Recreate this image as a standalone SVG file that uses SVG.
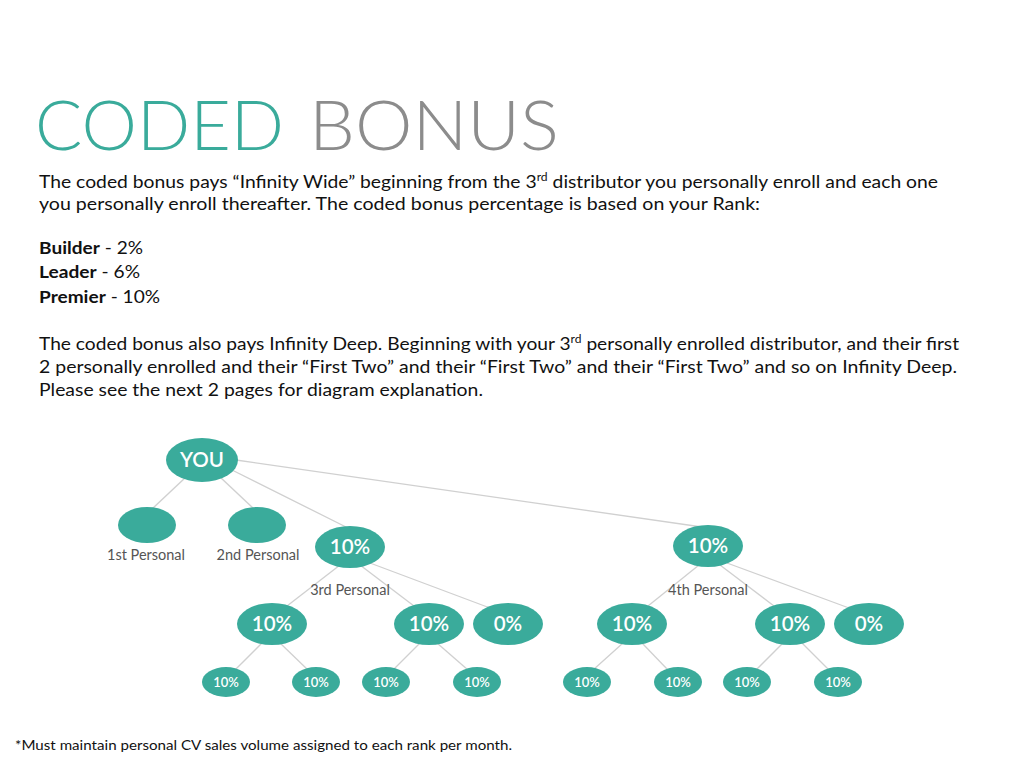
<svg xmlns="http://www.w3.org/2000/svg" width="1020" height="765" viewBox="0 0 1020 765">
<style>
.title{font-family:Lato,"Liberation Sans",sans-serif;font-weight:300;font-size:68px}
.body{font-family:Lato,"Liberation Sans",sans-serif;font-size:17.5px;fill:#111}
.b{font-weight:bold}
.sup{font-size:11px}
.lbl{font-family:Lato,"Liberation Sans",sans-serif;font-size:14.5px;fill:#555;text-anchor:middle}
.n{fill:#3aab9b}
.nt{font-family:Lato,"Liberation Sans",sans-serif;fill:#fff;text-anchor:middle;font-weight:600}
.big{font-size:20.5px}
.sm{font-size:13px}
.c line{stroke:#d0d0d0;stroke-width:1.3}
.foot{font-family:Lato,"Liberation Sans",sans-serif;font-size:13px;fill:#111}
</style>
<rect width="1020" height="765" fill="#fff"/>
<text class="title" x="35" y="150" fill="#3aab9b" textLength="249" lengthAdjust="spacingAndGlyphs">CODED</text>
<text class="title" x="309" y="150" fill="#8c8c8c" textLength="250" lengthAdjust="spacingAndGlyphs">BONUS</text>
<text class="body" x="39" y="188" textLength="899" lengthAdjust="spacingAndGlyphs">The coded bonus pays “Infinity Wide” beginning from the 3<tspan class="sup" dy="-7">rd</tspan><tspan dy="7"> distributor you personally enroll and each one</tspan></text>
<text class="body" x="39" y="210" textLength="721" lengthAdjust="spacingAndGlyphs">you personally enroll thereafter. The coded bonus percentage is based on your Rank:</text>
<text class="body" x="39" y="254" textLength="104" lengthAdjust="spacingAndGlyphs"><tspan class="b">Builder</tspan> - 2%</text>
<text class="body" x="39" y="278" textLength="101" lengthAdjust="spacingAndGlyphs"><tspan class="b">Leader</tspan> - 6%</text>
<text class="body" x="39" y="303" textLength="121" lengthAdjust="spacingAndGlyphs"><tspan class="b">Premier</tspan> - 10%</text>
<text class="body" x="39" y="350" textLength="920" lengthAdjust="spacingAndGlyphs">The coded bonus also pays Infinity Deep. Beginning with your 3<tspan class="sup" dy="-7">rd</tspan><tspan dy="7"> personally enrolled distributor, and their first</tspan></text>
<text class="body" x="39" y="373" textLength="918" lengthAdjust="spacingAndGlyphs">2 personally enrolled and their “First Two” and their “First Two” and their “First Two” and so on Infinity Deep.</text>
<text class="body" x="39" y="396" textLength="444" lengthAdjust="spacingAndGlyphs">Please see the next 2 pages for diagram explanation.</text>
<g class="c" id="connectors">
<line x1="186" y1="477" x2="152" y2="509"/>
<line x1="220" y1="477" x2="254" y2="509"/>
<line x1="232" y1="470" x2="348" y2="528"/>
<line x1="236" y1="460" x2="702" y2="527"/>
<line x1="340" y1="565" x2="287" y2="606"/>
<line x1="360" y1="565" x2="414" y2="606"/>
<line x1="370" y1="563" x2="490" y2="608"/>
<line x1="262" y1="643" x2="235" y2="670"/>
<line x1="280" y1="643" x2="308" y2="670"/>
<line x1="420" y1="643" x2="393" y2="670"/>
<line x1="437" y1="643" x2="468" y2="670"/>
<line x1="699" y1="565" x2="648" y2="606"/>
<line x1="720" y1="565" x2="774" y2="606"/>
<line x1="727" y1="563" x2="849" y2="608"/>
<line x1="623" y1="643" x2="593" y2="670"/>
<line x1="642" y1="643" x2="668" y2="670"/>
<line x1="783" y1="643" x2="756" y2="670"/>
<line x1="802" y1="643" x2="829" y2="670"/>
</g>
<g id="you"><ellipse class="n" cx="202" cy="460" rx="36" ry="22"/><text class="nt big" x="202" y="467" font-weight="bold">YOU</text></g>
<g id="p1"><ellipse class="n" cx="147" cy="525" rx="29" ry="18"/><text class="lbl" x="146" y="560">1st Personal</text></g>
<g id="p2"><ellipse class="n" cx="257" cy="525" rx="29" ry="18"/><text class="lbl" x="258" y="560">2nd Personal</text></g>
<g id="p3"><ellipse class="n" cx="350" cy="547" rx="35" ry="21"/><text class="nt big" x="350" y="554">10%</text><text class="lbl" x="350" y="595">3rd Personal</text></g>
<g id="p4"><ellipse class="n" cx="708" cy="546" rx="35" ry="21"/><text class="nt big" x="708" y="553">10%</text><text class="lbl" x="708" y="595">4th Personal</text></g>
<g id="a1"><ellipse class="n" cx="272" cy="624" rx="35" ry="21"/><text class="nt big" x="272" y="631">10%</text></g>
<g id="a2"><ellipse class="n" cx="429" cy="624" rx="35" ry="21"/><text class="nt big" x="429" y="631">10%</text></g>
<g id="a3"><ellipse class="n" cx="508" cy="624" rx="35" ry="21"/><text class="nt big" x="508" y="631">0%</text></g>
<g id="b1"><ellipse class="n" cx="632" cy="624" rx="35" ry="21"/><text class="nt big" x="632" y="631">10%</text></g>
<g id="b2"><ellipse class="n" cx="790" cy="624" rx="35" ry="21"/><text class="nt big" x="790" y="631">10%</text></g>
<g id="b3"><ellipse class="n" cx="869" cy="624" rx="35" ry="21"/><text class="nt big" x="869" y="631">0%</text></g>
<g id="c1"><ellipse class="n" cx="226" cy="682" rx="24" ry="15"/><text class="nt sm" x="226" y="687">10%</text></g>
<g id="c2"><ellipse class="n" cx="316" cy="682" rx="24" ry="15"/><text class="nt sm" x="316" y="687">10%</text></g>
<g id="c3"><ellipse class="n" cx="386" cy="682" rx="24" ry="15"/><text class="nt sm" x="386" y="687">10%</text></g>
<g id="c4"><ellipse class="n" cx="477" cy="682" rx="24" ry="15"/><text class="nt sm" x="477" y="687">10%</text></g>
<g id="d1"><ellipse class="n" cx="587" cy="682" rx="24" ry="15"/><text class="nt sm" x="587" y="687">10%</text></g>
<g id="d2"><ellipse class="n" cx="678" cy="682" rx="24" ry="15"/><text class="nt sm" x="678" y="687">10%</text></g>
<g id="d3"><ellipse class="n" cx="747" cy="682" rx="24" ry="15"/><text class="nt sm" x="747" y="687">10%</text></g>
<g id="d4"><ellipse class="n" cx="838" cy="682" rx="24" ry="15"/><text class="nt sm" x="838" y="687">10%</text></g>
<text class="foot" x="15" y="750" textLength="497" lengthAdjust="spacingAndGlyphs">*Must maintain personal CV sales volume assigned to each rank per month.</text>
</svg>
